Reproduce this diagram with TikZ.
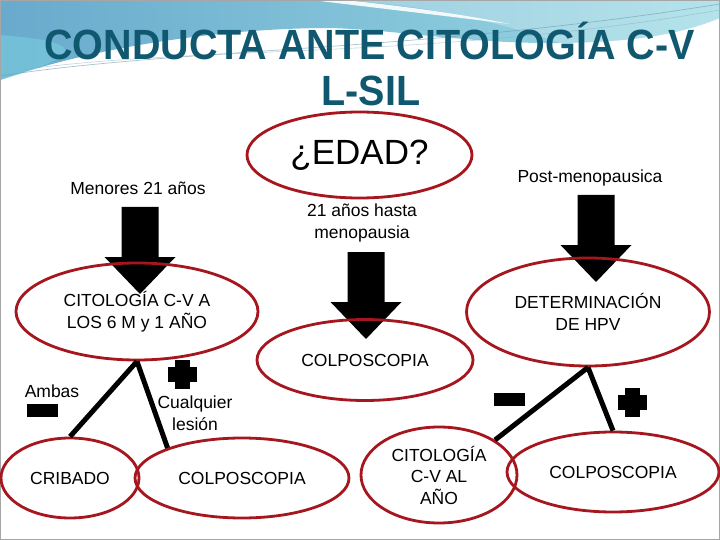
\documentclass[tikz,border=0pt]{standalone}
\usepackage{fontspec}
\setmainfont{Liberation Sans}
\usetikzlibrary{shapes.geometric}
\definecolor{ered}{RGB}{165,22,30}
\definecolor{ttl}{RGB}{16,88,112}
\definecolor{bgL}{RGB}{105,170,205}
\definecolor{bgR}{RGB}{155,218,228}
\definecolor{bgC}{RGB}{120,205,222}
\begin{document}
\begin{tikzpicture}[x=1pt,y=-1pt,
  oval/.style={ellipse, draw=ered, line width=2.8pt, inner sep=0pt, align=center,
    font=\fontsize{17.5}{21.5}\selectfont},
  lbl/.style={align=center, inner sep=0pt, font=\fontsize{17.5}{21.5}\selectfont},
  branch/.style={line width=5pt},
  blockarrow/.pic={\fill[black] (-18.5,0) -- (18.5,0) -- (18.5,50) -- (35.5,50) -- (0,87) -- (-35.5,50) -- (-18.5,50) -- cycle;},
  plussign/.pic={\fill[black] (-14.5,-7.5) rectangle (14.5,7.5); \fill[black] (-7.5,-14.5) rectangle (7.5,14.5);},
  minussign/.pic={\fill[black] (-15.5,-6.5) rectangle (15.5,6.5);}
]
\useasboundingbox (0,0) rectangle (720,540);
% background
\fill[white] (0,0) rectangle (720,540);
\shade[left color=bgL, right color=bgR] (0,0) -- (720,0) -- (720,18)
  .. controls (690,30) and (650,42) .. (560,43)
  .. controls (470,44) and (400,30) .. (330,28)
  .. controls (230,28) and (100,45) .. (0,80) -- cycle;
\fill[bgC, opacity=0.6] (0,35) .. controls (60,40) and (110,48) .. (0,80) -- cycle;
\fill[white, opacity=0.9] (312,0) .. controls (360,6) and (430,14) .. (510,24)
  .. controls (440,10) and (380,4) .. (345,0) -- cycle;
\fill[white, opacity=0.25] (345,0) .. controls (420,6) and (480,16) .. (560,43)
  .. controls (650,42) and (690,30) .. (720,18) -- (720,0) -- cycle;
\draw[ttl!60, opacity=0.6, line width=0.7pt] (0,76) .. controls (180,48) and (420,52) .. (720,4);
\draw[ttl!50, opacity=0.5, line width=0.6pt] (20,70) .. controls (200,45) and (430,60) .. (720,10);
\draw[gray!70, line width=2pt] (0,0) rectangle (720,540);

% title
\node[font=\fontsize{39.5}{40}\selectfont\bfseries, text=ttl, inner sep=0pt] (t1) at (369.5,40.5)
  {\scalebox{1}[1.07]{CONDUCTA ANTE CITOLOGÍA C-V}};
\node[font=\fontsize{39.5}{40}\selectfont\bfseries, text=ttl, inner sep=0pt] (t2) at (371,91)
  {\scalebox{1}[1.07]{L-SIL}};

% labels
\node[lbl] (menores) at (138,188) {Menores 21 años};
\node[lbl] (medio) at (362,223) {21 años hasta\\menopausia};
\node[lbl] (post) at (590,178) {Post-menopausica};
\node[lbl] (ambas) at (52,391) {Ambas};
\node[lbl] (cualq) at (195,413) {Cualquier\\lesión};

% block arrows
\pic at (140,207) {blockarrow};
\pic at (366,252) {blockarrow};
\pic at (596,195) {blockarrow};

% ellipses
\node[oval, minimum width=225, minimum height=86, font=\fontsize{35}{40}\selectfont] (edad) at (359.5,155) {¿EDAD?};
\node[oval, minimum width=242, minimum height=97] (citL) at (137,311.5) {CITOLOGÍA C-V A\\LOS 6 M y 1 AÑO};
\node[oval, minimum width=216, minimum height=81] (colpoM) at (365,360) {COLPOSCOPIA};
\node[oval, minimum width=243, minimum height=108] (det) at (588,312) {DETERMINACIÓN\\DE HPV};
\node[oval, minimum width=138, minimum height=80] (crib) at (70,478) {CRIBADO};
\node[oval, minimum width=214, minimum height=80] (colpoL) at (242,478) {COLPOSCOPIA};
\node[oval, minimum width=156, minimum height=96] (citAL) at (439,475) {CITOLOGÍA\\C-V AL\\AÑO};
\node[oval, minimum width=212, minimum height=80] (colpoR) at (613,472) {COLPOSCOPIA};

% branches
\draw[branch] (citL.south) -- (crib.north);
\draw[branch] (citL.south) -- (colpoL.158);
\draw[branch] (det.south) -- (citAL.32);
\draw[branch] (det.south) -- (colpoR.north);

% signs
\pic at (42.5,410.5) {minussign};
\pic at (509.5,399.5) {minussign};
\pic at (182.5,374.5) {plussign};
\pic at (632.5,402.5) {plussign};
\end{tikzpicture}
\end{document}
